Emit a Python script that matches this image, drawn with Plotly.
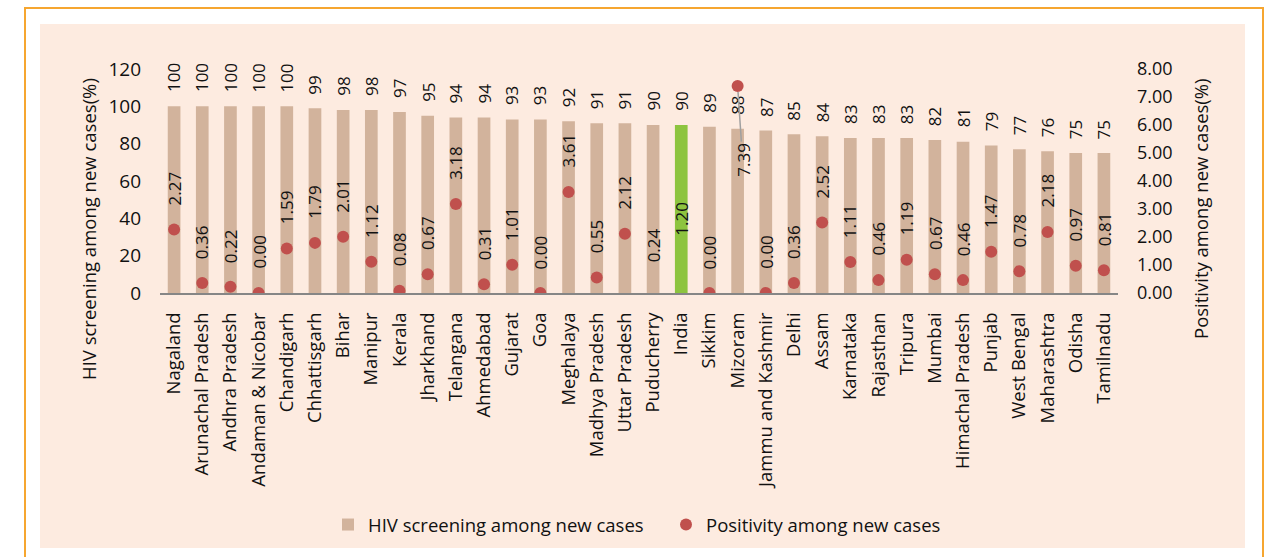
import plotly.graph_objects as go

categories = ["Nagaland", "Arunachal Pradesh", "Andhra Pradesh", "Andaman & Nicobar", "Chandigarh",
              "Chhattisgarh", "Bihar", "Manipur", "Kerala", "Jharkhand", "Telangana", "Ahmedabad",
              "Gujarat", "Goa", "Meghalaya", "Madhya Pradesh", "Uttar Pradesh", "Puducherry", "India",
              "Sikkim", "Mizoram", "Jammu and Kashmir", "Delhi", "Assam", "Karnataka", "Rajasthan",
              "Tripura", "Mumbai", "Himachal Pradesh", "Punjab", "West Bengal", "Maharashtra",
              "Odisha", "Tamilnadu"]
screening = [100, 100, 100, 100, 100, 99, 98, 98, 97, 95, 94, 94, 93, 93, 92, 91, 91, 90, 90,
             89, 88, 87, 85, 84, 83, 83, 83, 82, 81, 79, 77, 76, 75, 75]
positivity = [2.27, 0.36, 0.22, 0.00, 1.59, 1.79, 2.01, 1.12, 0.08, 0.67, 3.18, 0.31, 1.01, 0.00,
              3.61, 0.55, 2.12, 0.24, 1.20, 0.00, 7.39, 0.00, 0.36, 2.52, 1.11, 0.46, 1.19, 0.67,
              0.46, 1.47, 0.78, 2.18, 0.97, 0.81]
hidden_markers = ["Puducherry", "India"]
left_ticks = [0, 20, 40, 60, 80, 100, 120]
right_ticks = [0, 1, 2, 3, 4, 5, 6, 7, 8]

FONT = "Open Sans"
BAR = "#D2B39C"
GREEN = "#8DC43F"
RED = "#C0504D"
TXT = "#111"

W, H = 1268, 557
L, R, T, B = 160, 150, 69, 264
pw, ph = W - L - R, H - T - B

def px(x):
    return (x - L) / pw

def py(y):
    return (H - B - y) / ph

bar_colors = [GREEN if c == "India" else BAR for c in categories]
mk_colors = ["rgba(0,0,0,0)" if c in hidden_markers else RED for c in categories]

fig = go.Figure()
fig.add_trace(go.Bar(x=categories, y=screening, name="HIV screening among new cases",
                     marker=dict(color=bar_colors, line=dict(width=0)), width=0.45,
                     yaxis="y", legend="legend"))
fig.add_trace(go.Scatter(x=categories, y=positivity, name="Positivity among new cases",
                         mode="markers", marker=dict(color=mk_colors, size=12),
                         yaxis="y2", legend="legend2"))

annotations = []
for c, v in zip(categories, screening):
    annotations.append(dict(x=c, y=v, xref="x", yref="y", text=str(v), textangle=-90,
                            showarrow=False, yanchor="bottom", yshift=12,
                            font=dict(family=FONT, size=17, color=TXT)))
for c, v in zip(categories, positivity):
    if c == "Mizoram":
        annotations.append(dict(x=c, y=v, xref="x", yref="y2", text=f"{v:.2f}", textangle=-90,
                                showarrow=True, arrowhead=0, arrowwidth=1.5, arrowcolor="#A0A0A0",
                                ax=5, ay=74, standoff=6,
                                font=dict(family=FONT, size=17, color=TXT)))
    else:
        annotations.append(dict(x=c, y=v, xref="x", yref="y2", text=f"{v:.2f}", textangle=-90,
                                showarrow=False, yanchor="bottom", yshift=22,
                                font=dict(family=FONT, size=17, color=TXT)))

annotations.append(dict(x=px(88), y=py(229), xref="paper", yref="paper", xanchor="center",
                        yanchor="middle", text="HIV screening among new cases(%)", textangle=-90,
                        showarrow=False, font=dict(family=FONT, size=18.5, color=TXT)))
annotations.append(dict(x=px(1200), y=py(209), xref="paper", yref="paper", xanchor="center",
                        yanchor="middle", text="Positivity among new cases(%)", textangle=-90,
                        showarrow=False, font=dict(family=FONT, size=18.5, color=TXT)))

shapes = [
    dict(type="rect", xref="paper", yref="paper", x0=px(25), x1=px(1263), y0=py(600), y1=py(8),
         line=dict(color="#F6A630", width=2), fillcolor="white", layer="below"),
    dict(type="rect", xref="paper", yref="paper", x0=px(40), x1=px(1245), y0=py(548), y1=py(24),
         line=dict(width=0), fillcolor="#FDEBE0", layer="below"),
]

leg_common = dict(orientation="h", yanchor="middle", xanchor="left", bgcolor="rgba(0,0,0,0)",
                  font=dict(family=FONT, size=18.5, color=TXT), itemwidth=30, borderwidth=0)

fig.update_layout(
    width=W, height=H,
    margin=dict(l=L, r=R, t=T, b=B, pad=0, autoexpand=False),
    paper_bgcolor="white", plot_bgcolor="rgba(0,0,0,0)",
    font=dict(family=FONT, size=17, color=TXT),
    showlegend=True,
    legend=dict(x=px(368 - 40), y=py(525), **leg_common),
    legend2=dict(x=px(706 - 40), y=py(525), **leg_common),
    xaxis=dict(type="category", tickangle=-90, showgrid=False, showline=True,
               linecolor="#868686", linewidth=2, ticks="", ticklabelstandoff=10,
               tickfont=dict(family=FONT, size=18.5, color=TXT), range=[-0.5, len(categories) - 0.5],
               automargin=False),
    yaxis=dict(range=[0, 120], tickvals=left_ticks, showgrid=False, zeroline=False, showline=False,
               ticks="", ticklabelstandoff=18, tickfont=dict(family=FONT, size=19, color=TXT),
               automargin=False),
    yaxis2=dict(range=[0, 8], tickvals=right_ticks, tickformat=".2f", overlaying="y", side="right",
                showgrid=False, zeroline=False, showline=False, ticks="", ticklabelstandoff=18,
                tickfont=dict(family=FONT, size=18, color=TXT), automargin=False),
    annotations=annotations,
    shapes=shapes,
)

fig.write_html("out.html", config={"displayModeBar": False},
               post_script="document.body.style.margin='0px';document.body.style.overflow='hidden';")
